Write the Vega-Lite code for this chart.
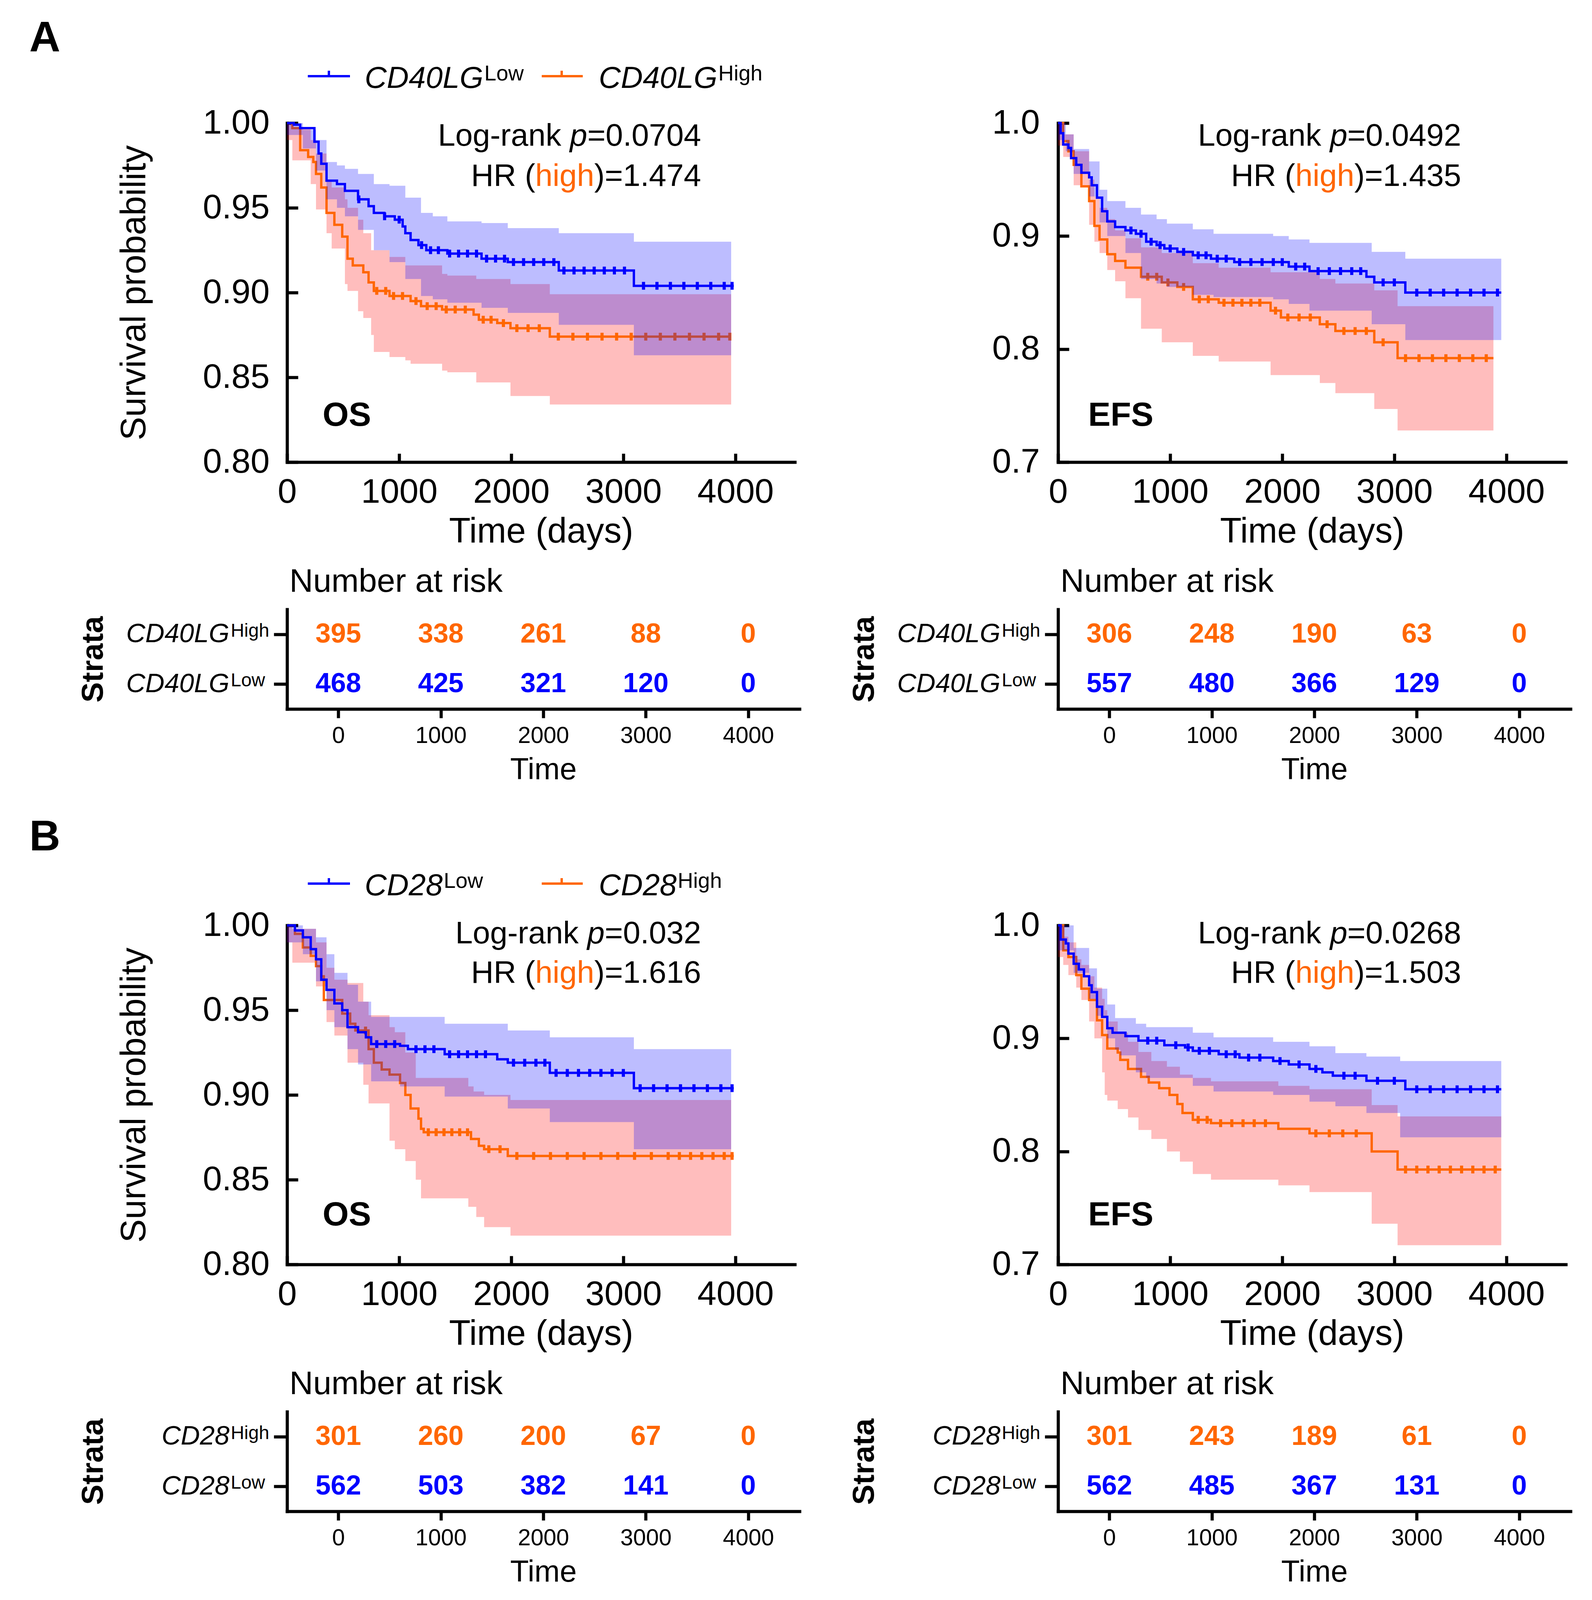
{
  "$schema": "https://vega.github.io/schema/vega-lite/v6.json",
  "background": "white",
  "padding": {"left": 74, "top": 42, "right": 10, "bottom": 4},
  "config": {
    "font": "Liberation Sans",
    "view": {"stroke": null},
    "axis": {
      "grid": false, "domainColor": "black", "tickColor": "black", "labelColor": "black", "titleColor": "black",
      "domainWidth": 8, "tickWidth": 8, "domainCap": "square", "titleFontWeight": "normal",
      "labelOverlap": false, "labelFlush": false, "labelLimit": 0, "titleLimit": 0
    },
    "tick": {"orient": "vertical", "size": 20, "thickness": 8, "yOffset": 6, "opacity": 1},
    "text": {"color": "black"}
  },
  "datasets": {
    "km": [
      {"panel":"aos","grp":"Low","t":0,"s":1.0},{"panel":"aos","grp":"Low","t":60,"s":0.999},{"panel":"aos","grp":"Low","t":117,"s":0.997},{"panel":"aos","grp":"Low","t":244,"s":0.989},{"panel":"aos","grp":"Low","t":281,"s":0.982},{"panel":"aos","grp":"Low","t":305,"s":0.976},{"panel":"aos","grp":"Low","t":352,"s":0.966},{"panel":"aos","grp":"Low","t":445,"s":0.964},{"panel":"aos","grp":"Low","t":516,"s":0.960},{"panel":"aos","grp":"Low","t":633,"s":0.955},{"panel":"aos","grp":"Low","t":727,"s":0.951},{"panel":"aos","grp":"Low","t":774,"s":0.947},{"panel":"aos","grp":"Low","t":867,"s":0.945},{"panel":"aos","grp":"Low","t":961,"s":0.943},{"panel":"aos","grp":"Low","t":1031,"s":0.939},{"panel":"aos","grp":"Low","t":1055,"s":0.935},{"panel":"aos","grp":"Low","t":1102,"s":0.931},{"panel":"aos","grp":"Low","t":1172,"s":0.928},{"panel":"aos","grp":"Low","t":1242,"s":0.925},{"panel":"aos","grp":"Low","t":1430,"s":0.923},{"panel":"aos","grp":"Low","t":1735,"s":0.920},{"panel":"aos","grp":"Low","t":1969,"s":0.918},{"panel":"aos","grp":"Low","t":2424,"s":0.913},{"panel":"aos","grp":"Low","t":3094,"s":0.904},{"panel":"aos","grp":"Low","t":3985,"s":0.904},
      {"panel":"aos","grp":"High","t":0,"s":1.0},{"panel":"aos","grp":"High","t":47,"s":0.997},{"panel":"aos","grp":"High","t":117,"s":0.984},{"panel":"aos","grp":"High","t":188,"s":0.980},{"panel":"aos","grp":"High","t":234,"s":0.977},{"panel":"aos","grp":"High","t":258,"s":0.970},{"panel":"aos","grp":"High","t":305,"s":0.962},{"panel":"aos","grp":"High","t":352,"s":0.947},{"panel":"aos","grp":"High","t":422,"s":0.940},{"panel":"aos","grp":"High","t":492,"s":0.933},{"panel":"aos","grp":"High","t":539,"s":0.920},{"panel":"aos","grp":"High","t":586,"s":0.916},{"panel":"aos","grp":"High","t":680,"s":0.912},{"panel":"aos","grp":"High","t":727,"s":0.906},{"panel":"aos","grp":"High","t":774,"s":0.901},{"panel":"aos","grp":"High","t":914,"s":0.898},{"panel":"aos","grp":"High","t":1102,"s":0.895},{"panel":"aos","grp":"High","t":1195,"s":0.892},{"panel":"aos","grp":"High","t":1383,"s":0.890},{"panel":"aos","grp":"High","t":1664,"s":0.887},{"panel":"aos","grp":"High","t":1711,"s":0.884},{"panel":"aos","grp":"High","t":1875,"s":0.882},{"panel":"aos","grp":"High","t":1993,"s":0.879},{"panel":"aos","grp":"High","t":2344,"s":0.874},{"panel":"aos","grp":"High","t":3962,"s":0.874},
      {"panel":"aefs","grp":"Low","t":0,"s":1.0},{"panel":"aefs","grp":"Low","t":23,"s":0.991},{"panel":"aefs","grp":"Low","t":46,"s":0.981},{"panel":"aefs","grp":"Low","t":92,"s":0.978},{"panel":"aefs","grp":"Low","t":116,"s":0.969},{"panel":"aefs","grp":"Low","t":162,"s":0.963},{"panel":"aefs","grp":"Low","t":208,"s":0.956},{"panel":"aefs","grp":"Low","t":277,"s":0.952},{"panel":"aefs","grp":"Low","t":300,"s":0.945},{"panel":"aefs","grp":"Low","t":347,"s":0.934},{"panel":"aefs","grp":"Low","t":393,"s":0.922},{"panel":"aefs","grp":"Low","t":439,"s":0.913},{"panel":"aefs","grp":"Low","t":509,"s":0.908},{"panel":"aefs","grp":"Low","t":601,"s":0.905},{"panel":"aefs","grp":"Low","t":694,"s":0.902},{"panel":"aefs","grp":"Low","t":786,"s":0.895},{"panel":"aefs","grp":"Low","t":879,"s":0.892},{"panel":"aefs","grp":"Low","t":948,"s":0.889},{"panel":"aefs","grp":"Low","t":1064,"s":0.886},{"panel":"aefs","grp":"Low","t":1202,"s":0.883},{"panel":"aefs","grp":"Low","t":1364,"s":0.880},{"panel":"aefs","grp":"Low","t":1572,"s":0.877},{"panel":"aefs","grp":"Low","t":2058,"s":0.873},{"panel":"aefs","grp":"Low","t":2243,"s":0.869},{"panel":"aefs","grp":"Low","t":2751,"s":0.864},{"panel":"aefs","grp":"Low","t":2821,"s":0.859},{"panel":"aefs","grp":"Low","t":3098,"s":0.850},{"panel":"aefs","grp":"Low","t":3954,"s":0.850},
      {"panel":"aefs","grp":"High","t":0,"s":1.0},{"panel":"aefs","grp":"High","t":46,"s":0.984},{"panel":"aefs","grp":"High","t":92,"s":0.975},{"panel":"aefs","grp":"High","t":139,"s":0.963},{"panel":"aefs","grp":"High","t":208,"s":0.944},{"panel":"aefs","grp":"High","t":277,"s":0.931},{"panel":"aefs","grp":"High","t":324,"s":0.909},{"panel":"aefs","grp":"High","t":370,"s":0.897},{"panel":"aefs","grp":"High","t":439,"s":0.884},{"panel":"aefs","grp":"High","t":509,"s":0.878},{"panel":"aefs","grp":"High","t":601,"s":0.872},{"panel":"aefs","grp":"High","t":740,"s":0.864},{"panel":"aefs","grp":"High","t":925,"s":0.859},{"panel":"aefs","grp":"High","t":1064,"s":0.855},{"panel":"aefs","grp":"High","t":1202,"s":0.844},{"panel":"aefs","grp":"High","t":1433,"s":0.841},{"panel":"aefs","grp":"High","t":1896,"s":0.834},{"panel":"aefs","grp":"High","t":1988,"s":0.828},{"panel":"aefs","grp":"High","t":2335,"s":0.822},{"panel":"aefs","grp":"High","t":2474,"s":0.816},{"panel":"aefs","grp":"High","t":2821,"s":0.806},{"panel":"aefs","grp":"High","t":3029,"s":0.792},{"panel":"aefs","grp":"High","t":3884,"s":0.792},
      {"panel":"bos","grp":"Low","t":0,"s":1.0},{"panel":"bos","grp":"Low","t":70,"s":0.997},{"panel":"bos","grp":"Low","t":141,"s":0.993},{"panel":"bos","grp":"Low","t":211,"s":0.986},{"panel":"bos","grp":"Low","t":258,"s":0.980},{"panel":"bos","grp":"Low","t":305,"s":0.968},{"panel":"bos","grp":"Low","t":352,"s":0.962},{"panel":"bos","grp":"Low","t":422,"s":0.954},{"panel":"bos","grp":"Low","t":492,"s":0.950},{"panel":"bos","grp":"Low","t":539,"s":0.940},{"panel":"bos","grp":"Low","t":633,"s":0.937},{"panel":"bos","grp":"Low","t":703,"s":0.934},{"panel":"bos","grp":"Low","t":750,"s":0.930},{"panel":"bos","grp":"Low","t":1008,"s":0.929},{"panel":"bos","grp":"Low","t":1078,"s":0.927},{"panel":"bos","grp":"Low","t":1406,"s":0.924},{"panel":"bos","grp":"Low","t":1875,"s":0.921},{"panel":"bos","grp":"Low","t":1969,"s":0.919},{"panel":"bos","grp":"Low","t":2344,"s":0.913},{"panel":"bos","grp":"Low","t":3094,"s":0.904},{"panel":"bos","grp":"Low","t":3985,"s":0.904},
      {"panel":"bos","grp":"High","t":0,"s":1.0},{"panel":"bos","grp":"High","t":70,"s":0.995},{"panel":"bos","grp":"High","t":141,"s":0.987},{"panel":"bos","grp":"High","t":211,"s":0.982},{"panel":"bos","grp":"High","t":258,"s":0.976},{"panel":"bos","grp":"High","t":305,"s":0.970},{"panel":"bos","grp":"High","t":328,"s":0.956},{"panel":"bos","grp":"High","t":492,"s":0.948},{"panel":"bos","grp":"High","t":563,"s":0.942},{"panel":"bos","grp":"High","t":609,"s":0.938},{"panel":"bos","grp":"High","t":727,"s":0.927},{"panel":"bos","grp":"High","t":774,"s":0.919},{"panel":"bos","grp":"High","t":844,"s":0.915},{"panel":"bos","grp":"High","t":914,"s":0.912},{"panel":"bos","grp":"High","t":1008,"s":0.907},{"panel":"bos","grp":"High","t":1055,"s":0.900},{"panel":"bos","grp":"High","t":1102,"s":0.892},{"panel":"bos","grp":"High","t":1172,"s":0.886},{"panel":"bos","grp":"High","t":1195,"s":0.880},{"panel":"bos","grp":"High","t":1219,"s":0.878},{"panel":"bos","grp":"High","t":1641,"s":0.874},{"panel":"bos","grp":"High","t":1711,"s":0.870},{"panel":"bos","grp":"High","t":1758,"s":0.868},{"panel":"bos","grp":"High","t":1969,"s":0.864},{"panel":"bos","grp":"High","t":3985,"s":0.864},
      {"panel":"befs","grp":"Low","t":0,"s":1.0},{"panel":"befs","grp":"Low","t":23,"s":0.9875},{"panel":"befs","grp":"Low","t":69,"s":0.984},{"panel":"befs","grp":"Low","t":92,"s":0.975},{"panel":"befs","grp":"Low","t":139,"s":0.966},{"panel":"befs","grp":"Low","t":185,"s":0.961},{"panel":"befs","grp":"Low","t":231,"s":0.955},{"panel":"befs","grp":"Low","t":277,"s":0.947},{"panel":"befs","grp":"Low","t":300,"s":0.941},{"panel":"befs","grp":"Low","t":347,"s":0.928},{"panel":"befs","grp":"Low","t":393,"s":0.919},{"panel":"befs","grp":"Low","t":439,"s":0.909},{"panel":"befs","grp":"Low","t":486,"s":0.905},{"panel":"befs","grp":"Low","t":601,"s":0.902},{"panel":"befs","grp":"Low","t":717,"s":0.898},{"panel":"befs","grp":"Low","t":948,"s":0.894},{"panel":"befs","grp":"Low","t":1133,"s":0.892},{"panel":"befs","grp":"Low","t":1202,"s":0.889},{"panel":"befs","grp":"Low","t":1433,"s":0.886},{"panel":"befs","grp":"Low","t":1618,"s":0.883},{"panel":"befs","grp":"Low","t":1919,"s":0.880},{"panel":"befs","grp":"Low","t":2058,"s":0.877},{"panel":"befs","grp":"Low","t":2243,"s":0.873},{"panel":"befs","grp":"Low","t":2358,"s":0.870},{"panel":"befs","grp":"Low","t":2451,"s":0.867},{"panel":"befs","grp":"Low","t":2751,"s":0.8625},{"panel":"befs","grp":"Low","t":3098,"s":0.855},{"panel":"befs","grp":"Low","t":3954,"s":0.855},
      {"panel":"befs","grp":"High","t":0,"s":1.0},{"panel":"befs","grp":"High","t":46,"s":0.978},{"panel":"befs","grp":"High","t":92,"s":0.972},{"panel":"befs","grp":"High","t":162,"s":0.956},{"panel":"befs","grp":"High","t":208,"s":0.944},{"panel":"befs","grp":"High","t":277,"s":0.934},{"panel":"befs","grp":"High","t":347,"s":0.916},{"panel":"befs","grp":"High","t":393,"s":0.903},{"panel":"befs","grp":"High","t":439,"s":0.891},{"panel":"befs","grp":"High","t":532,"s":0.8875},{"panel":"befs","grp":"High","t":555,"s":0.881},{"panel":"befs","grp":"High","t":624,"s":0.873},{"panel":"befs","grp":"High","t":740,"s":0.866},{"panel":"befs","grp":"High","t":809,"s":0.861},{"panel":"befs","grp":"High","t":902,"s":0.856},{"panel":"befs","grp":"High","t":994,"s":0.850},{"panel":"befs","grp":"High","t":1064,"s":0.842},{"panel":"befs","grp":"High","t":1110,"s":0.834},{"panel":"befs","grp":"High","t":1202,"s":0.828},{"panel":"befs","grp":"High","t":1364,"s":0.825},{"panel":"befs","grp":"High","t":1965,"s":0.820},{"panel":"befs","grp":"High","t":2243,"s":0.816},{"panel":"befs","grp":"High","t":2798,"s":0.800},{"panel":"befs","grp":"High","t":3029,"s":0.784},{"panel":"befs","grp":"High","t":3954,"s":0.784}
    ],
    "cens": [
      {"panel":"aos","grp":"Low","t":640,"s":0.955},{"panel":"aos","grp":"Low","t":870,"s":0.945},{"panel":"aos","grp":"Low","t":1000,"s":0.943},{"panel":"aos","grp":"Low","t":1200,"s":0.928},{"panel":"aos","grp":"Low","t":1280,"s":0.925},{"panel":"aos","grp":"Low","t":1350,"s":0.925},{"panel":"aos","grp":"Low","t":1450,"s":0.923},{"panel":"aos","grp":"Low","t":1530,"s":0.923},{"panel":"aos","grp":"Low","t":1610,"s":0.923},{"panel":"aos","grp":"Low","t":1690,"s":0.923},{"panel":"aos","grp":"Low","t":1780,"s":0.920},{"panel":"aos","grp":"Low","t":1860,"s":0.920},{"panel":"aos","grp":"Low","t":1940,"s":0.920},{"panel":"aos","grp":"Low","t":2020,"s":0.918},{"panel":"aos","grp":"Low","t":2110,"s":0.918},{"panel":"aos","grp":"Low","t":2200,"s":0.918},{"panel":"aos","grp":"Low","t":2290,"s":0.918},{"panel":"aos","grp":"Low","t":2380,"s":0.918},{"panel":"aos","grp":"Low","t":2470,"s":0.913},{"panel":"aos","grp":"Low","t":2560,"s":0.913},{"panel":"aos","grp":"Low","t":2650,"s":0.913},{"panel":"aos","grp":"Low","t":2740,"s":0.913},{"panel":"aos","grp":"Low","t":2830,"s":0.913},{"panel":"aos","grp":"Low","t":2920,"s":0.913},{"panel":"aos","grp":"Low","t":3010,"s":0.913},{"panel":"aos","grp":"Low","t":3180,"s":0.904},{"panel":"aos","grp":"Low","t":3300,"s":0.904},{"panel":"aos","grp":"Low","t":3420,"s":0.904},{"panel":"aos","grp":"Low","t":3540,"s":0.904},{"panel":"aos","grp":"Low","t":3660,"s":0.904},{"panel":"aos","grp":"Low","t":3780,"s":0.904},{"panel":"aos","grp":"Low","t":3900,"s":0.904},{"panel":"aos","grp":"Low","t":3970,"s":0.904},
      {"panel":"aos","grp":"High","t":800,"s":0.901},{"panel":"aos","grp":"High","t":880,"s":0.901},{"panel":"aos","grp":"High","t":950,"s":0.898},{"panel":"aos","grp":"High","t":1030,"s":0.898},{"panel":"aos","grp":"High","t":1150,"s":0.895},{"panel":"aos","grp":"High","t":1250,"s":0.892},{"panel":"aos","grp":"High","t":1330,"s":0.892},{"panel":"aos","grp":"High","t":1420,"s":0.890},{"panel":"aos","grp":"High","t":1500,"s":0.890},{"panel":"aos","grp":"High","t":1590,"s":0.890},{"panel":"aos","grp":"High","t":1750,"s":0.884},{"panel":"aos","grp":"High","t":1820,"s":0.884},{"panel":"aos","grp":"High","t":1930,"s":0.882},{"panel":"aos","grp":"High","t":2050,"s":0.879},{"panel":"aos","grp":"High","t":2150,"s":0.879},{"panel":"aos","grp":"High","t":2250,"s":0.879},{"panel":"aos","grp":"High","t":2420,"s":0.874},{"panel":"aos","grp":"High","t":2550,"s":0.874},{"panel":"aos","grp":"High","t":2680,"s":0.874},{"panel":"aos","grp":"High","t":2810,"s":0.874},{"panel":"aos","grp":"High","t":2940,"s":0.874},{"panel":"aos","grp":"High","t":3070,"s":0.874},{"panel":"aos","grp":"High","t":3200,"s":0.874},{"panel":"aos","grp":"High","t":3330,"s":0.874},{"panel":"aos","grp":"High","t":3460,"s":0.874},{"panel":"aos","grp":"High","t":3590,"s":0.874},{"panel":"aos","grp":"High","t":3720,"s":0.874},{"panel":"aos","grp":"High","t":3850,"s":0.874},{"panel":"aos","grp":"High","t":3950,"s":0.874},
      {"panel":"aefs","grp":"Low","t":650,"s":0.905},{"panel":"aefs","grp":"Low","t":740,"s":0.902},{"panel":"aefs","grp":"Low","t":830,"s":0.895},{"panel":"aefs","grp":"Low","t":910,"s":0.892},{"panel":"aefs","grp":"Low","t":1000,"s":0.889},{"panel":"aefs","grp":"Low","t":1120,"s":0.886},{"panel":"aefs","grp":"Low","t":1250,"s":0.883},{"panel":"aefs","grp":"Low","t":1320,"s":0.883},{"panel":"aefs","grp":"Low","t":1420,"s":0.880},{"panel":"aefs","grp":"Low","t":1500,"s":0.880},{"panel":"aefs","grp":"Low","t":1620,"s":0.877},{"panel":"aefs","grp":"Low","t":1720,"s":0.877},{"panel":"aefs","grp":"Low","t":1820,"s":0.877},{"panel":"aefs","grp":"Low","t":1920,"s":0.877},{"panel":"aefs","grp":"Low","t":2000,"s":0.877},{"panel":"aefs","grp":"Low","t":2120,"s":0.873},{"panel":"aefs","grp":"Low","t":2200,"s":0.873},{"panel":"aefs","grp":"Low","t":2320,"s":0.869},{"panel":"aefs","grp":"Low","t":2420,"s":0.869},{"panel":"aefs","grp":"Low","t":2520,"s":0.869},{"panel":"aefs","grp":"Low","t":2620,"s":0.869},{"panel":"aefs","grp":"Low","t":2700,"s":0.869},{"panel":"aefs","grp":"Low","t":2900,"s":0.859},{"panel":"aefs","grp":"Low","t":3000,"s":0.859},{"panel":"aefs","grp":"Low","t":3200,"s":0.850},{"panel":"aefs","grp":"Low","t":3320,"s":0.850},{"panel":"aefs","grp":"Low","t":3440,"s":0.850},{"panel":"aefs","grp":"Low","t":3560,"s":0.850},{"panel":"aefs","grp":"Low","t":3680,"s":0.850},{"panel":"aefs","grp":"Low","t":3800,"s":0.850},{"panel":"aefs","grp":"Low","t":3920,"s":0.850},
      {"panel":"aefs","grp":"High","t":800,"s":0.864},{"panel":"aefs","grp":"High","t":880,"s":0.864},{"panel":"aefs","grp":"High","t":980,"s":0.859},{"panel":"aefs","grp":"High","t":1120,"s":0.855},{"panel":"aefs","grp":"High","t":1260,"s":0.844},{"panel":"aefs","grp":"High","t":1340,"s":0.844},{"panel":"aefs","grp":"High","t":1480,"s":0.841},{"panel":"aefs","grp":"High","t":1560,"s":0.841},{"panel":"aefs","grp":"High","t":1640,"s":0.841},{"panel":"aefs","grp":"High","t":1720,"s":0.841},{"panel":"aefs","grp":"High","t":1800,"s":0.841},{"panel":"aefs","grp":"High","t":1940,"s":0.834},{"panel":"aefs","grp":"High","t":2050,"s":0.828},{"panel":"aefs","grp":"High","t":2150,"s":0.828},{"panel":"aefs","grp":"High","t":2250,"s":0.828},{"panel":"aefs","grp":"High","t":2400,"s":0.822},{"panel":"aefs","grp":"High","t":2550,"s":0.816},{"panel":"aefs","grp":"High","t":2650,"s":0.816},{"panel":"aefs","grp":"High","t":2750,"s":0.816},{"panel":"aefs","grp":"High","t":2900,"s":0.806},{"panel":"aefs","grp":"High","t":3100,"s":0.792},{"panel":"aefs","grp":"High","t":3220,"s":0.792},{"panel":"aefs","grp":"High","t":3340,"s":0.792},{"panel":"aefs","grp":"High","t":3460,"s":0.792},{"panel":"aefs","grp":"High","t":3580,"s":0.792},{"panel":"aefs","grp":"High","t":3700,"s":0.792},{"panel":"aefs","grp":"High","t":3820,"s":0.792},
      {"panel":"bos","grp":"Low","t":800,"s":0.930},{"panel":"bos","grp":"Low","t":880,"s":0.930},{"panel":"bos","grp":"Low","t":960,"s":0.930},{"panel":"bos","grp":"Low","t":1150,"s":0.927},{"panel":"bos","grp":"Low","t":1230,"s":0.927},{"panel":"bos","grp":"Low","t":1310,"s":0.927},{"panel":"bos","grp":"Low","t":1450,"s":0.924},{"panel":"bos","grp":"Low","t":1530,"s":0.924},{"panel":"bos","grp":"Low","t":1610,"s":0.924},{"panel":"bos","grp":"Low","t":1690,"s":0.924},{"panel":"bos","grp":"Low","t":1770,"s":0.924},{"panel":"bos","grp":"Low","t":2020,"s":0.919},{"panel":"bos","grp":"Low","t":2120,"s":0.919},{"panel":"bos","grp":"Low","t":2220,"s":0.919},{"panel":"bos","grp":"Low","t":2300,"s":0.919},{"panel":"bos","grp":"Low","t":2400,"s":0.913},{"panel":"bos","grp":"Low","t":2500,"s":0.913},{"panel":"bos","grp":"Low","t":2600,"s":0.913},{"panel":"bos","grp":"Low","t":2700,"s":0.913},{"panel":"bos","grp":"Low","t":2800,"s":0.913},{"panel":"bos","grp":"Low","t":2900,"s":0.913},{"panel":"bos","grp":"Low","t":3000,"s":0.913},{"panel":"bos","grp":"Low","t":3150,"s":0.904},{"panel":"bos","grp":"Low","t":3270,"s":0.904},{"panel":"bos","grp":"Low","t":3390,"s":0.904},{"panel":"bos","grp":"Low","t":3510,"s":0.904},{"panel":"bos","grp":"Low","t":3630,"s":0.904},{"panel":"bos","grp":"Low","t":3750,"s":0.904},{"panel":"bos","grp":"Low","t":3870,"s":0.904},{"panel":"bos","grp":"Low","t":3970,"s":0.904},
      {"panel":"bos","grp":"High","t":700,"s":0.938},{"panel":"bos","grp":"High","t":1260,"s":0.878},{"panel":"bos","grp":"High","t":1330,"s":0.878},{"panel":"bos","grp":"High","t":1400,"s":0.878},{"panel":"bos","grp":"High","t":1470,"s":0.878},{"panel":"bos","grp":"High","t":1540,"s":0.878},{"panel":"bos","grp":"High","t":1610,"s":0.878},{"panel":"bos","grp":"High","t":1800,"s":0.868},{"panel":"bos","grp":"High","t":1900,"s":0.868},{"panel":"bos","grp":"High","t":2050,"s":0.864},{"panel":"bos","grp":"High","t":2200,"s":0.864},{"panel":"bos","grp":"High","t":2350,"s":0.864},{"panel":"bos","grp":"High","t":2500,"s":0.864},{"panel":"bos","grp":"High","t":2650,"s":0.864},{"panel":"bos","grp":"High","t":2800,"s":0.864},{"panel":"bos","grp":"High","t":2950,"s":0.864},{"panel":"bos","grp":"High","t":3100,"s":0.864},{"panel":"bos","grp":"High","t":3250,"s":0.864},{"panel":"bos","grp":"High","t":3400,"s":0.864},{"panel":"bos","grp":"High","t":3500,"s":0.864},{"panel":"bos","grp":"High","t":3600,"s":0.864},{"panel":"bos","grp":"High","t":3700,"s":0.864},{"panel":"bos","grp":"High","t":3800,"s":0.864},{"panel":"bos","grp":"High","t":3900,"s":0.864},{"panel":"bos","grp":"High","t":3970,"s":0.864},
      {"panel":"befs","grp":"Low","t":800,"s":0.898},{"panel":"befs","grp":"Low","t":880,"s":0.898},{"panel":"befs","grp":"Low","t":1050,"s":0.894},{"panel":"befs","grp":"Low","t":1160,"s":0.892},{"panel":"befs","grp":"Low","t":1260,"s":0.889},{"panel":"befs","grp":"Low","t":1350,"s":0.889},{"panel":"befs","grp":"Low","t":1500,"s":0.886},{"panel":"befs","grp":"Low","t":1580,"s":0.886},{"panel":"befs","grp":"Low","t":1700,"s":0.883},{"panel":"befs","grp":"Low","t":1800,"s":0.883},{"panel":"befs","grp":"Low","t":1980,"s":0.880},{"panel":"befs","grp":"Low","t":2150,"s":0.877},{"panel":"befs","grp":"Low","t":2300,"s":0.873},{"panel":"befs","grp":"Low","t":2550,"s":0.867},{"panel":"befs","grp":"Low","t":2650,"s":0.867},{"panel":"befs","grp":"Low","t":2850,"s":0.8625},{"panel":"befs","grp":"Low","t":3000,"s":0.8625},{"panel":"befs","grp":"Low","t":3200,"s":0.855},{"panel":"befs","grp":"Low","t":3320,"s":0.855},{"panel":"befs","grp":"Low","t":3440,"s":0.855},{"panel":"befs","grp":"Low","t":3560,"s":0.855},{"panel":"befs","grp":"Low","t":3680,"s":0.855},{"panel":"befs","grp":"Low","t":3800,"s":0.855},{"panel":"befs","grp":"Low","t":3920,"s":0.855},
      {"panel":"befs","grp":"High","t":1250,"s":0.828},{"panel":"befs","grp":"High","t":1330,"s":0.828},{"panel":"befs","grp":"High","t":1450,"s":0.825},{"panel":"befs","grp":"High","t":1550,"s":0.825},{"panel":"befs","grp":"High","t":1650,"s":0.825},{"panel":"befs","grp":"High","t":1750,"s":0.825},{"panel":"befs","grp":"High","t":1850,"s":0.825},{"panel":"befs","grp":"High","t":2300,"s":0.816},{"panel":"befs","grp":"High","t":2420,"s":0.816},{"panel":"befs","grp":"High","t":2540,"s":0.816},{"panel":"befs","grp":"High","t":2660,"s":0.816},{"panel":"befs","grp":"High","t":3100,"s":0.784},{"panel":"befs","grp":"High","t":3200,"s":0.784},{"panel":"befs","grp":"High","t":3300,"s":0.784},{"panel":"befs","grp":"High","t":3400,"s":0.784},{"panel":"befs","grp":"High","t":3500,"s":0.784},{"panel":"befs","grp":"High","t":3600,"s":0.784},{"panel":"befs","grp":"High","t":3700,"s":0.784},{"panel":"befs","grp":"High","t":3800,"s":0.784},{"panel":"befs","grp":"High","t":3900,"s":0.784}
    ],
    "band": [
      {"panel":"aos","grp":"Low","t":0,"lo":0.993,"hi":1.0},{"panel":"aos","grp":"Low","t":141,"lo":0.985,"hi":0.996},{"panel":"aos","grp":"Low","t":258,"lo":0.972,"hi":0.990},{"panel":"aos","grp":"Low","t":352,"lo":0.955,"hi":0.977},{"panel":"aos","grp":"Low","t":445,"lo":0.950,"hi":0.975},{"panel":"aos","grp":"Low","t":516,"lo":0.945,"hi":0.973},{"panel":"aos","grp":"Low","t":633,"lo":0.937,"hi":0.970},{"panel":"aos","grp":"Low","t":774,"lo":0.925,"hi":0.964},{"panel":"aos","grp":"Low","t":914,"lo":0.918,"hi":0.963},{"panel":"aos","grp":"Low","t":1055,"lo":0.908,"hi":0.956},{"panel":"aos","grp":"Low","t":1195,"lo":0.898,"hi":0.947},{"panel":"aos","grp":"Low","t":1300,"lo":0.896,"hi":0.945},{"panel":"aos","grp":"Low","t":1430,"lo":0.894,"hi":0.942},{"panel":"aos","grp":"Low","t":1735,"lo":0.891,"hi":0.941},{"panel":"aos","grp":"Low","t":1969,"lo":0.888,"hi":0.938},{"panel":"aos","grp":"Low","t":2424,"lo":0.881,"hi":0.935},{"panel":"aos","grp":"Low","t":3094,"lo":0.863,"hi":0.930},{"panel":"aos","grp":"Low","t":3962,"lo":0.863,"hi":0.930},
      {"panel":"aos","grp":"High","t":0,"lo":0.99,"hi":1.0},{"panel":"aos","grp":"High","t":47,"lo":0.978,"hi":0.997},{"panel":"aos","grp":"High","t":211,"lo":0.964,"hi":0.990},{"panel":"aos","grp":"High","t":258,"lo":0.949,"hi":0.982},{"panel":"aos","grp":"High","t":352,"lo":0.935,"hi":0.966},{"panel":"aos","grp":"High","t":398,"lo":0.926,"hi":0.962},{"panel":"aos","grp":"High","t":516,"lo":0.905,"hi":0.955},{"panel":"aos","grp":"High","t":539,"lo":0.901,"hi":0.950},{"panel":"aos","grp":"High","t":633,"lo":0.889,"hi":0.943},{"panel":"aos","grp":"High","t":680,"lo":0.885,"hi":0.935},{"panel":"aos","grp":"High","t":750,"lo":0.875,"hi":0.925},{"panel":"aos","grp":"High","t":774,"lo":0.865,"hi":0.925},{"panel":"aos","grp":"High","t":914,"lo":0.862,"hi":0.921},{"panel":"aos","grp":"High","t":1055,"lo":0.860,"hi":0.916},{"panel":"aos","grp":"High","t":1102,"lo":0.858,"hi":0.916},{"panel":"aos","grp":"High","t":1383,"lo":0.854,"hi":0.911},{"panel":"aos","grp":"High","t":1430,"lo":0.853,"hi":0.910},{"panel":"aos","grp":"High","t":1688,"lo":0.847,"hi":0.908},{"panel":"aos","grp":"High","t":1993,"lo":0.839,"hi":0.905},{"panel":"aos","grp":"High","t":2344,"lo":0.834,"hi":0.899},{"panel":"aos","grp":"High","t":3962,"lo":0.834,"hi":0.899},
      {"panel":"aefs","grp":"Low","t":0,"lo":0.985,"hi":1.0},{"panel":"aefs","grp":"Low","t":69,"lo":0.975,"hi":0.990},{"panel":"aefs","grp":"Low","t":139,"lo":0.955,"hi":0.977},{"panel":"aefs","grp":"Low","t":277,"lo":0.935,"hi":0.966},{"panel":"aefs","grp":"Low","t":370,"lo":0.912,"hi":0.941},{"panel":"aefs","grp":"Low","t":439,"lo":0.900,"hi":0.931},{"panel":"aefs","grp":"Low","t":601,"lo":0.885,"hi":0.925},{"panel":"aefs","grp":"Low","t":740,"lo":0.862,"hi":0.919},{"panel":"aefs","grp":"Low","t":879,"lo":0.858,"hi":0.915},{"panel":"aefs","grp":"Low","t":971,"lo":0.855,"hi":0.911},{"panel":"aefs","grp":"Low","t":1202,"lo":0.848,"hi":0.906},{"panel":"aefs","grp":"Low","t":1387,"lo":0.846,"hi":0.902},{"panel":"aefs","grp":"Low","t":1919,"lo":0.844,"hi":0.900},{"panel":"aefs","grp":"Low","t":2058,"lo":0.840,"hi":0.897},{"panel":"aefs","grp":"Low","t":2243,"lo":0.834,"hi":0.894},{"panel":"aefs","grp":"Low","t":2798,"lo":0.822,"hi":0.886},{"panel":"aefs","grp":"Low","t":3098,"lo":0.808,"hi":0.880},{"panel":"aefs","grp":"Low","t":3954,"lo":0.808,"hi":0.880},
      {"panel":"aefs","grp":"High","t":0,"lo":0.98,"hi":1.0},{"panel":"aefs","grp":"High","t":46,"lo":0.97,"hi":0.99},{"panel":"aefs","grp":"High","t":139,"lo":0.945,"hi":0.975},{"panel":"aefs","grp":"High","t":277,"lo":0.91,"hi":0.95},{"panel":"aefs","grp":"High","t":324,"lo":0.895,"hi":0.935},{"panel":"aefs","grp":"High","t":370,"lo":0.885,"hi":0.925},{"panel":"aefs","grp":"High","t":439,"lo":0.87,"hi":0.915},{"panel":"aefs","grp":"High","t":509,"lo":0.86,"hi":0.905},{"panel":"aefs","grp":"High","t":601,"lo":0.845,"hi":0.898},{"panel":"aefs","grp":"High","t":740,"lo":0.818,"hi":0.89},{"panel":"aefs","grp":"High","t":925,"lo":0.806,"hi":0.885},{"panel":"aefs","grp":"High","t":1202,"lo":0.794,"hi":0.876},{"panel":"aefs","grp":"High","t":1433,"lo":0.789,"hi":0.872},{"panel":"aefs","grp":"High","t":1896,"lo":0.777,"hi":0.868},{"panel":"aefs","grp":"High","t":2335,"lo":0.770,"hi":0.862},{"panel":"aefs","grp":"High","t":2474,"lo":0.761,"hi":0.858},{"panel":"aefs","grp":"High","t":2821,"lo":0.747,"hi":0.852},{"panel":"aefs","grp":"High","t":3029,"lo":0.728,"hi":0.838},{"panel":"aefs","grp":"High","t":3884,"lo":0.728,"hi":0.838},
      {"panel":"bos","grp":"Low","t":0,"lo":0.99,"hi":1.0},{"panel":"bos","grp":"Low","t":141,"lo":0.983,"hi":0.998},{"panel":"bos","grp":"Low","t":258,"lo":0.967,"hi":0.993},{"panel":"bos","grp":"Low","t":352,"lo":0.950,"hi":0.983},{"panel":"bos","grp":"Low","t":422,"lo":0.940,"hi":0.972},{"panel":"bos","grp":"Low","t":539,"lo":0.927,"hi":0.965},{"panel":"bos","grp":"Low","t":633,"lo":0.918,"hi":0.955},{"panel":"bos","grp":"Low","t":750,"lo":0.908,"hi":0.946},{"panel":"bos","grp":"Low","t":1008,"lo":0.905,"hi":0.946},{"panel":"bos","grp":"Low","t":1406,"lo":0.899,"hi":0.942},{"panel":"bos","grp":"Low","t":1969,"lo":0.892,"hi":0.938},{"panel":"bos","grp":"Low","t":2344,"lo":0.884,"hi":0.934},{"panel":"bos","grp":"Low","t":3094,"lo":0.868,"hi":0.927},{"panel":"bos","grp":"Low","t":3962,"lo":0.868,"hi":0.927},
      {"panel":"bos","grp":"High","t":0,"lo":0.99,"hi":1.0},{"panel":"bos","grp":"High","t":47,"lo":0.978,"hi":0.998},{"panel":"bos","grp":"High","t":258,"lo":0.964,"hi":0.990},{"panel":"bos","grp":"High","t":352,"lo":0.943,"hi":0.975},{"panel":"bos","grp":"High","t":422,"lo":0.935,"hi":0.968},{"panel":"bos","grp":"High","t":539,"lo":0.919,"hi":0.966},{"panel":"bos","grp":"High","t":680,"lo":0.906,"hi":0.955},{"panel":"bos","grp":"High","t":727,"lo":0.895,"hi":0.947},{"panel":"bos","grp":"High","t":914,"lo":0.873,"hi":0.940},{"panel":"bos","grp":"High","t":961,"lo":0.868,"hi":0.937},{"panel":"bos","grp":"High","t":1055,"lo":0.861,"hi":0.925},{"panel":"bos","grp":"High","t":1148,"lo":0.850,"hi":0.910},{"panel":"bos","grp":"High","t":1195,"lo":0.839,"hi":0.910},{"panel":"bos","grp":"High","t":1617,"lo":0.834,"hi":0.905},{"panel":"bos","grp":"High","t":1664,"lo":0.834,"hi":0.902},{"panel":"bos","grp":"High","t":1688,"lo":0.828,"hi":0.902},{"panel":"bos","grp":"High","t":1758,"lo":0.822,"hi":0.900},{"panel":"bos","grp":"High","t":1993,"lo":0.817,"hi":0.897},{"panel":"bos","grp":"High","t":3962,"lo":0.817,"hi":0.897},
      {"panel":"befs","grp":"Low","t":0,"lo":0.978,"hi":1.0},{"panel":"befs","grp":"Low","t":139,"lo":0.958,"hi":0.98},{"panel":"befs","grp":"Low","t":277,"lo":0.935,"hi":0.962},{"panel":"befs","grp":"Low","t":347,"lo":0.92,"hi":0.944},{"panel":"befs","grp":"Low","t":439,"lo":0.90,"hi":0.93},{"panel":"befs","grp":"Low","t":509,"lo":0.89,"hi":0.918},{"panel":"befs","grp":"Low","t":555,"lo":0.885,"hi":0.918},{"panel":"befs","grp":"Low","t":694,"lo":0.87,"hi":0.913},{"panel":"befs","grp":"Low","t":786,"lo":0.865,"hi":0.91},{"panel":"befs","grp":"Low","t":1202,"lo":0.858,"hi":0.905},{"panel":"befs","grp":"Low","t":1387,"lo":0.853,"hi":0.901},{"panel":"befs","grp":"Low","t":1919,"lo":0.850,"hi":0.897},{"panel":"befs","grp":"Low","t":2243,"lo":0.844,"hi":0.893},{"panel":"befs","grp":"Low","t":2474,"lo":0.840,"hi":0.887},{"panel":"befs","grp":"Low","t":2751,"lo":0.834,"hi":0.884},{"panel":"befs","grp":"Low","t":3052,"lo":0.8125,"hi":0.88},{"panel":"befs","grp":"Low","t":3954,"lo":0.8125,"hi":0.88},
      {"panel":"befs","grp":"High","t":0,"lo":0.972,"hi":1.0},{"panel":"befs","grp":"High","t":46,"lo":0.965,"hi":0.99},{"panel":"befs","grp":"High","t":92,"lo":0.956,"hi":0.985},{"panel":"befs","grp":"High","t":162,"lo":0.945,"hi":0.97},{"panel":"befs","grp":"High","t":208,"lo":0.934,"hi":0.965},{"panel":"befs","grp":"High","t":277,"lo":0.915,"hi":0.955},{"panel":"befs","grp":"High","t":324,"lo":0.9,"hi":0.945},{"panel":"befs","grp":"High","t":393,"lo":0.87,"hi":0.935},{"panel":"befs","grp":"High","t":416,"lo":0.85,"hi":0.925},{"panel":"befs","grp":"High","t":439,"lo":0.845,"hi":0.915},{"panel":"befs","grp":"High","t":532,"lo":0.8375,"hi":0.905},{"panel":"befs","grp":"High","t":624,"lo":0.83,"hi":0.897},{"panel":"befs","grp":"High","t":717,"lo":0.819,"hi":0.888},{"panel":"befs","grp":"High","t":832,"lo":0.811,"hi":0.88},{"panel":"befs","grp":"High","t":971,"lo":0.8,"hi":0.875},{"panel":"befs","grp":"High","t":1087,"lo":0.791,"hi":0.868},{"panel":"befs","grp":"High","t":1202,"lo":0.780,"hi":0.865},{"panel":"befs","grp":"High","t":1364,"lo":0.775,"hi":0.862},{"panel":"befs","grp":"High","t":1965,"lo":0.770,"hi":0.858},{"panel":"befs","grp":"High","t":2243,"lo":0.764,"hi":0.855},{"panel":"befs","grp":"High","t":2798,"lo":0.736,"hi":0.841},{"panel":"befs","grp":"High","t":3029,"lo":0.717,"hi":0.831},{"panel":"befs","grp":"High","t":3954,"lo":0.717,"hi":0.831}
    ],
    "risk": [
      {"panel":"aos","grp":"High","t":0,"n":395},{"panel":"aos","grp":"High","t":1000,"n":338},{"panel":"aos","grp":"High","t":2000,"n":261},{"panel":"aos","grp":"High","t":3000,"n":88},{"panel":"aos","grp":"High","t":4000,"n":0},
      {"panel":"aos","grp":"Low","t":0,"n":468},{"panel":"aos","grp":"Low","t":1000,"n":425},{"panel":"aos","grp":"Low","t":2000,"n":321},{"panel":"aos","grp":"Low","t":3000,"n":120},{"panel":"aos","grp":"Low","t":4000,"n":0},
      {"panel":"aefs","grp":"High","t":0,"n":306},{"panel":"aefs","grp":"High","t":1000,"n":248},{"panel":"aefs","grp":"High","t":2000,"n":190},{"panel":"aefs","grp":"High","t":3000,"n":63},{"panel":"aefs","grp":"High","t":4000,"n":0},
      {"panel":"aefs","grp":"Low","t":0,"n":557},{"panel":"aefs","grp":"Low","t":1000,"n":480},{"panel":"aefs","grp":"Low","t":2000,"n":366},{"panel":"aefs","grp":"Low","t":3000,"n":129},{"panel":"aefs","grp":"Low","t":4000,"n":0},
      {"panel":"bos","grp":"High","t":0,"n":301},{"panel":"bos","grp":"High","t":1000,"n":260},{"panel":"bos","grp":"High","t":2000,"n":200},{"panel":"bos","grp":"High","t":3000,"n":67},{"panel":"bos","grp":"High","t":4000,"n":0},
      {"panel":"bos","grp":"Low","t":0,"n":562},{"panel":"bos","grp":"Low","t":1000,"n":503},{"panel":"bos","grp":"Low","t":2000,"n":382},{"panel":"bos","grp":"Low","t":3000,"n":141},{"panel":"bos","grp":"Low","t":4000,"n":0},
      {"panel":"befs","grp":"High","t":0,"n":301},{"panel":"befs","grp":"High","t":1000,"n":243},{"panel":"befs","grp":"High","t":2000,"n":189},{"panel":"befs","grp":"High","t":3000,"n":61},{"panel":"befs","grp":"High","t":4000,"n":0},
      {"panel":"befs","grp":"Low","t":0,"n":562},{"panel":"befs","grp":"Low","t":1000,"n":485},{"panel":"befs","grp":"Low","t":2000,"n":367},{"panel":"befs","grp":"Low","t":3000,"n":131},{"panel":"befs","grp":"Low","t":4000,"n":0}
    ]
  },
  "columns": 2,
  "align": "each",
  "bounds": "flush",
  "spacing": {"row": 0, "column": 662},
  "concat": [
    {
      "width": 1300, "height": 868,
      "data": {"values": [{}]},
      "layer": [
        {"data": {"name": "band"}, "transform": [{"filter": "datum.panel==='aos' && datum.grp==='High'"}],
         "mark": {"type": "area", "interpolate": "step-after", "color": "#FF0000", "opacity": 0.26},
         "encoding": {
           "x": {"field": "t", "type": "quantitative", "scale": {"domain": [0, 4530], "nice": false, "zero": false},
                 "axis": {"values": [0, 1000, 2000, 3000, 4000], "format": "d", "title": "Time (days)", "titleFontSize": 90, "titlePadding": 13, "labelFontSize": 88, "labelPadding": 55, "tickSize": -22}},
           "y": {"field": "lo", "type": "quantitative", "scale": {"domain": [0.8, 1.0], "nice": false, "zero": false},
                 "axis": {"values": [0.8, 0.85, 0.9, 0.95, 1.0], "format": ".2f", "title": "Survival probability", "titleFontSize": 90, "titlePadding": 145, "labelFontSize": 88, "labelPadding": 73, "tickSize": -28}},
           "y2": {"field": "hi"}}},
        {"data": {"name": "km"}, "transform": [{"filter": "datum.panel==='aos' && datum.grp==='High'"}],
         "mark": {"type": "line", "interpolate": "step-after", "color": "#FF6600", "strokeWidth": 6},
         "encoding": {"x": {"field": "t", "type": "quantitative"}, "y": {"field": "s", "type": "quantitative"}}},
        {"data": {"name": "cens"}, "transform": [{"filter": "datum.panel==='aos' && datum.grp==='High'"}],
         "mark": {"type": "tick", "color": "#FF6600"},
         "encoding": {"x": {"field": "t", "type": "quantitative"}, "y": {"field": "s", "type": "quantitative"}}},
        {"data": {"name": "band"}, "transform": [{"filter": "datum.panel==='aos' && datum.grp==='Low'"}],
         "mark": {"type": "area", "interpolate": "step-after", "color": "#0000FF", "opacity": 0.26},
         "encoding": {"x": {"field": "t", "type": "quantitative"}, "y": {"field": "lo", "type": "quantitative"}, "y2": {"field": "hi"}}},
        {"data": {"name": "km"}, "transform": [{"filter": "datum.panel==='aos' && datum.grp==='Low'"}],
         "mark": {"type": "line", "interpolate": "step-after", "color": "#0000FF", "strokeWidth": 6},
         "encoding": {"x": {"field": "t", "type": "quantitative"}, "y": {"field": "s", "type": "quantitative"}}},
        {"data": {"name": "cens"}, "transform": [{"filter": "datum.panel==='aos' && datum.grp==='Low'"}],
         "mark": {"type": "tick", "color": "#0000FF"},
         "encoding": {"x": {"field": "t", "type": "quantitative"}, "y": {"field": "s", "type": "quantitative"}}},
        {"mark": {"type": "text", "align": "right", "baseline": "middle", "fontSize": 80},
         "encoding": {"x": {"datum": 2446, "type": "quantitative"}, "y": {"datum": 0.99224, "type": "quantitative"}, "text": {"value": "Log-rank"}}},
        {"mark": {"type": "text", "align": "right", "baseline": "middle", "fontSize": 80, "fontStyle": "italic"},
         "encoding": {"x": {"datum": 2678, "type": "quantitative"}, "y": {"datum": 0.99224, "type": "quantitative"}, "text": {"value": "p"}}},
        {"mark": {"type": "text", "align": "right", "baseline": "middle", "fontSize": 80},
         "encoding": {"x": {"datum": 3694, "type": "quantitative"}, "y": {"datum": 0.99224, "type": "quantitative"}, "text": {"value": "=0.0704"}}},
        {"mark": {"type": "text", "align": "right", "baseline": "middle", "fontSize": 80},
         "encoding": {"x": {"datum": 2214, "type": "quantitative"}, "y": {"datum": 0.96842, "type": "quantitative"}, "text": {"value": "HR ("}}},
        {"mark": {"type": "text", "align": "right", "baseline": "middle", "fontSize": 80, "color": "#FF6600"},
         "encoding": {"x": {"datum": 2741, "type": "quantitative"}, "y": {"datum": 0.96842, "type": "quantitative"}, "text": {"value": "high"}}},
        {"mark": {"type": "text", "align": "right", "baseline": "middle", "fontSize": 80},
         "encoding": {"x": {"datum": 3694, "type": "quantitative"}, "y": {"datum": 0.96842, "type": "quantitative"}, "text": {"value": ")=1.474"}}},
        {"mark": {"type": "text", "align": "left", "baseline": "middle", "fontSize": 86, "fontWeight": "bold"},
         "encoding": {"x": {"datum": 317, "type": "quantitative"}, "y": {"datum": 0.8275, "type": "quantitative"}, "text": {"value": "OS"}}},
        {"mark": {"type": "text", "align": "left", "baseline": "alphabetic", "fontSize": 110, "fontWeight": "bold"},
         "encoding": {"x": {"datum": -2300, "type": "quantitative"}, "y": {"datum": 1.04248, "type": "quantitative"}, "text": {"value": "A"}}},
        {"mark": {"type": "rule", "color": "#0000FF", "strokeWidth": 6},
         "encoding": {"x": {"datum": 185, "type": "quantitative"}, "x2": {"datum": 561}, "y": {"datum": 1.02765, "type": "quantitative"}}},
        {"mark": {"type": "rule", "color": "#0000FF", "strokeWidth": 6},
         "encoding": {"x": {"datum": 373, "type": "quantitative"}, "y": {"datum": 1.02765, "type": "quantitative"}, "y2": {"datum": 1.03087}}},
        {"mark": {"type": "text", "align": "left", "baseline": "alphabetic", "fontSize": 78, "fontStyle": "italic"},
         "encoding": {"x": {"datum": 693, "type": "quantitative"}, "y": {"datum": 1.02074, "type": "quantitative"}, "text": {"value": "CD40LG"}}},
        {"mark": {"type": "text", "align": "left", "baseline": "alphabetic", "fontSize": 55},
         "encoding": {"x": {"datum": 1760, "type": "quantitative"}, "y": {"datum": 1.02511, "type": "quantitative"}, "text": {"value": "Low"}}},
        {"mark": {"type": "rule", "color": "#FF6600", "strokeWidth": 6},
         "encoding": {"x": {"datum": 2272, "type": "quantitative"}, "x2": {"datum": 2638}, "y": {"datum": 1.02765, "type": "quantitative"}}},
        {"mark": {"type": "rule", "color": "#FF6600", "strokeWidth": 6},
         "encoding": {"x": {"datum": 2450, "type": "quantitative"}, "y": {"datum": 1.02765, "type": "quantitative"}, "y2": {"datum": 1.03087}}},
        {"mark": {"type": "text", "align": "left", "baseline": "alphabetic", "fontSize": 78, "fontStyle": "italic"},
         "encoding": {"x": {"datum": 2781, "type": "quantitative"}, "y": {"datum": 1.02074, "type": "quantitative"}, "text": {"value": "CD40LG"}}},
        {"mark": {"type": "text", "align": "left", "baseline": "alphabetic", "fontSize": 55},
         "encoding": {"x": {"datum": 3847, "type": "quantitative"}, "y": {"datum": 1.02511, "type": "quantitative"}, "text": {"value": "High"}}}
      ]
    },
    {
      "width": 1300, "height": 868,
      "data": {"values": [{}]},
      "layer": [
        {"data": {"name": "band"}, "transform": [{"filter": "datum.panel==='aefs' && datum.grp==='High'"}],
         "mark": {"type": "area", "interpolate": "step-after", "color": "#FF0000", "opacity": 0.26},
         "encoding": {
           "x": {"field": "t", "type": "quantitative", "scale": {"domain": [0, 4530], "nice": false, "zero": false},
                 "axis": {"values": [0, 1000, 2000, 3000, 4000], "format": "d", "title": "Time (days)", "titleFontSize": 90, "titlePadding": 13, "labelFontSize": 88, "labelPadding": 55, "tickSize": -22}},
           "y": {"field": "lo", "type": "quantitative", "scale": {"domain": [0.7, 1.0], "nice": false, "zero": false},
                 "axis": {"values": [0.7, 0.8, 0.9, 1.0], "format": ".1f", "title": "", "labelFontSize": 88, "labelPadding": 75, "tickSize": -28}},
           "y2": {"field": "hi"}}},
        {"data": {"name": "km"}, "transform": [{"filter": "datum.panel==='aefs' && datum.grp==='High'"}],
         "mark": {"type": "line", "interpolate": "step-after", "color": "#FF6600", "strokeWidth": 6},
         "encoding": {"x": {"field": "t", "type": "quantitative"}, "y": {"field": "s", "type": "quantitative"}}},
        {"data": {"name": "cens"}, "transform": [{"filter": "datum.panel==='aefs' && datum.grp==='High'"}],
         "mark": {"type": "tick", "color": "#FF6600"},
         "encoding": {"x": {"field": "t", "type": "quantitative"}, "y": {"field": "s", "type": "quantitative"}}},
        {"data": {"name": "band"}, "transform": [{"filter": "datum.panel==='aefs' && datum.grp==='Low'"}],
         "mark": {"type": "area", "interpolate": "step-after", "color": "#0000FF", "opacity": 0.26},
         "encoding": {"x": {"field": "t", "type": "quantitative"}, "y": {"field": "lo", "type": "quantitative"}, "y2": {"field": "hi"}}},
        {"data": {"name": "km"}, "transform": [{"filter": "datum.panel==='aefs' && datum.grp==='Low'"}],
         "mark": {"type": "line", "interpolate": "step-after", "color": "#0000FF", "strokeWidth": 6},
         "encoding": {"x": {"field": "t", "type": "quantitative"}, "y": {"field": "s", "type": "quantitative"}}},
        {"data": {"name": "cens"}, "transform": [{"filter": "datum.panel==='aefs' && datum.grp==='Low'"}],
         "mark": {"type": "tick", "color": "#0000FF"},
         "encoding": {"x": {"field": "t", "type": "quantitative"}, "y": {"field": "s", "type": "quantitative"}}},
        {"mark": {"type": "text", "align": "right", "baseline": "middle", "fontSize": 80},
         "encoding": {"x": {"datum": 2348, "type": "quantitative"}, "y": {"datum": 0.98837, "type": "quantitative"}, "text": {"value": "Log-rank"}}},
        {"mark": {"type": "text", "align": "right", "baseline": "middle", "fontSize": 80, "fontStyle": "italic"},
         "encoding": {"x": {"datum": 2581, "type": "quantitative"}, "y": {"datum": 0.98837, "type": "quantitative"}, "text": {"value": "p"}}},
        {"mark": {"type": "text", "align": "right", "baseline": "middle", "fontSize": 80},
         "encoding": {"x": {"datum": 3596, "type": "quantitative"}, "y": {"datum": 0.98837, "type": "quantitative"}, "text": {"value": "=0.0492"}}},
        {"mark": {"type": "text", "align": "right", "baseline": "middle", "fontSize": 80},
         "encoding": {"x": {"datum": 2116, "type": "quantitative"}, "y": {"datum": 0.95263, "type": "quantitative"}, "text": {"value": "HR ("}}},
        {"mark": {"type": "text", "align": "right", "baseline": "middle", "fontSize": 80, "color": "#FF6600"},
         "encoding": {"x": {"datum": 2643, "type": "quantitative"}, "y": {"datum": 0.95263, "type": "quantitative"}, "text": {"value": "high"}}},
        {"mark": {"type": "text", "align": "right", "baseline": "middle", "fontSize": 80},
         "encoding": {"x": {"datum": 3596, "type": "quantitative"}, "y": {"datum": 0.95263, "type": "quantitative"}, "text": {"value": ")=1.435"}}},
        {"mark": {"type": "text", "align": "left", "baseline": "middle", "fontSize": 86, "fontWeight": "bold"},
         "encoding": {"x": {"datum": 268, "type": "quantitative"}, "y": {"datum": 0.7413, "type": "quantitative"}, "text": {"value": "EFS"}}}
      ]
    },
    {"width": 1312, "height": 377, "data": {"values": []}, "mark": "point"},
    {"width": 1312, "height": 377, "data": {"values": []}, "mark": "point"},
    {
      "width": 1312, "height": 255,
      "title": {"text": "Number at risk", "anchor": "start", "frame": "group", "fontSize": 84, "fontWeight": "normal", "baseline": "bottom", "offset": -57, "dx": 6, "color": "black"},
      "data": {"name": "risk"},
      "transform": [{"filter": "datum.panel==='aos'"}],
      "layer": [
        {"mark": {"type": "text", "fontSize": 70, "fontWeight": "bold", "baseline": "middle"},
         "encoding": {
           "x": {"field": "t", "type": "quantitative", "scale": {"domain": [-500, 4500], "nice": false, "zero": false},
                 "axis": {"values": [0, 1000, 2000, 3000, 4000], "format": "d", "title": "Time", "titleFontSize": 78, "titlePadding": 19, "labelFontSize": 59, "labelPadding": 16, "tickSize": 23}},
           "y": {"field": "grp", "type": "nominal", "sort": ["High", "Low"], "scale": {"type": "point", "padding": 0.5},
                 "axis": {"title": "Strata", "titleFontWeight": "bold", "titleFontSize": 78, "titlePadding": 257, "labelExpr": "'CD40LG'", "labelFontStyle": "italic", "labelFontSize": 68, "labelPadding": 114, "tickSize": 34}},
           "text": {"field": "n", "type": "quantitative"},
           "color": {"field": "grp", "type": "nominal", "scale": {"domain": ["Low", "High"], "range": ["#0000FF", "#FF6600"]}, "legend": null}}},
        {"transform": [{"filter": "datum.t===0"}],
         "mark": {"type": "text", "fontSize": 48, "align": "left", "baseline": "alphabetic", "dy": 6, "color": "black"},
         "encoding": {"x": {"datum": -1050, "type": "quantitative"}, "y": {"field": "grp", "type": "nominal", "sort": ["High", "Low"]}, "text": {"field": "grp"}}}
      ]
    },
    {
      "width": 1312, "height": 255,
      "title": {"text": "Number at risk", "anchor": "start", "frame": "group", "fontSize": 84, "fontWeight": "normal", "baseline": "bottom", "offset": -57, "dx": 6, "color": "black"},
      "data": {"name": "risk"},
      "transform": [{"filter": "datum.panel==='aefs'"}],
      "layer": [
        {"mark": {"type": "text", "fontSize": 70, "fontWeight": "bold", "baseline": "middle"},
         "encoding": {
           "x": {"field": "t", "type": "quantitative", "scale": {"domain": [-500, 4500], "nice": false, "zero": false},
                 "axis": {"values": [0, 1000, 2000, 3000, 4000], "format": "d", "title": "Time", "titleFontSize": 78, "titlePadding": 19, "labelFontSize": 59, "labelPadding": 16, "tickSize": 23}},
           "y": {"field": "grp", "type": "nominal", "sort": ["High", "Low"], "scale": {"type": "point", "padding": 0.5},
                 "axis": {"title": "Strata", "titleFontWeight": "bold", "titleFontSize": 78, "titlePadding": 257, "labelExpr": "'CD40LG'", "labelFontStyle": "italic", "labelFontSize": 68, "labelPadding": 114, "tickSize": 34}},
           "text": {"field": "n", "type": "quantitative"},
           "color": {"field": "grp", "type": "nominal", "scale": {"domain": ["Low", "High"], "range": ["#0000FF", "#FF6600"]}, "legend": null}}},
        {"transform": [{"filter": "datum.t===0"}],
         "mark": {"type": "text", "fontSize": 48, "align": "left", "baseline": "alphabetic", "dy": 6, "color": "black"},
         "encoding": {"x": {"datum": -1050, "type": "quantitative"}, "y": {"field": "grp", "type": "nominal", "sort": ["High", "Low"]}, "text": {"field": "grp"}}}
      ]
    },
    {"width": 1312, "height": 554, "data": {"values": []}, "mark": "point"},
    {"width": 1312, "height": 554, "data": {"values": []}, "mark": "point"},
    {
      "width": 1300, "height": 868,
      "data": {"values": [{}]},
      "layer": [
        {"data": {"name": "band"}, "transform": [{"filter": "datum.panel==='bos' && datum.grp==='High'"}],
         "mark": {"type": "area", "interpolate": "step-after", "color": "#FF0000", "opacity": 0.26},
         "encoding": {
           "x": {"field": "t", "type": "quantitative", "scale": {"domain": [0, 4530], "nice": false, "zero": false},
                 "axis": {"values": [0, 1000, 2000, 3000, 4000], "format": "d", "title": "Time (days)", "titleFontSize": 90, "titlePadding": 13, "labelFontSize": 88, "labelPadding": 55, "tickSize": -22}},
           "y": {"field": "lo", "type": "quantitative", "scale": {"domain": [0.8, 1.0], "nice": false, "zero": false},
                 "axis": {"values": [0.8, 0.85, 0.9, 0.95, 1.0], "format": ".2f", "title": "Survival probability", "titleFontSize": 90, "titlePadding": 145, "labelFontSize": 88, "labelPadding": 73, "tickSize": -28}},
           "y2": {"field": "hi"}}},
        {"data": {"name": "km"}, "transform": [{"filter": "datum.panel==='bos' && datum.grp==='High'"}],
         "mark": {"type": "line", "interpolate": "step-after", "color": "#FF6600", "strokeWidth": 6},
         "encoding": {"x": {"field": "t", "type": "quantitative"}, "y": {"field": "s", "type": "quantitative"}}},
        {"data": {"name": "cens"}, "transform": [{"filter": "datum.panel==='bos' && datum.grp==='High'"}],
         "mark": {"type": "tick", "color": "#FF6600"},
         "encoding": {"x": {"field": "t", "type": "quantitative"}, "y": {"field": "s", "type": "quantitative"}}},
        {"data": {"name": "band"}, "transform": [{"filter": "datum.panel==='bos' && datum.grp==='Low'"}],
         "mark": {"type": "area", "interpolate": "step-after", "color": "#0000FF", "opacity": 0.26},
         "encoding": {"x": {"field": "t", "type": "quantitative"}, "y": {"field": "lo", "type": "quantitative"}, "y2": {"field": "hi"}}},
        {"data": {"name": "km"}, "transform": [{"filter": "datum.panel==='bos' && datum.grp==='Low'"}],
         "mark": {"type": "line", "interpolate": "step-after", "color": "#0000FF", "strokeWidth": 6},
         "encoding": {"x": {"field": "t", "type": "quantitative"}, "y": {"field": "s", "type": "quantitative"}}},
        {"data": {"name": "cens"}, "transform": [{"filter": "datum.panel==='bos' && datum.grp==='Low'"}],
         "mark": {"type": "tick", "color": "#0000FF"},
         "encoding": {"x": {"field": "t", "type": "quantitative"}, "y": {"field": "s", "type": "quantitative"}}},
        {"mark": {"type": "text", "align": "right", "baseline": "middle", "fontSize": 80},
         "encoding": {"x": {"datum": 2601, "type": "quantitative"}, "y": {"datum": 0.99483, "type": "quantitative"}, "text": {"value": "Log-rank"}}},
        {"mark": {"type": "text", "align": "right", "baseline": "middle", "fontSize": 80, "fontStyle": "italic"},
         "encoding": {"x": {"datum": 2833, "type": "quantitative"}, "y": {"datum": 0.99483, "type": "quantitative"}, "text": {"value": "p"}}},
        {"mark": {"type": "text", "align": "right", "baseline": "middle", "fontSize": 80},
         "encoding": {"x": {"datum": 3694, "type": "quantitative"}, "y": {"datum": 0.99483, "type": "quantitative"}, "text": {"value": "=0.032"}}},
        {"mark": {"type": "text", "align": "right", "baseline": "middle", "fontSize": 80},
         "encoding": {"x": {"datum": 2214, "type": "quantitative"}, "y": {"datum": 0.97156, "type": "quantitative"}, "text": {"value": "HR ("}}},
        {"mark": {"type": "text", "align": "right", "baseline": "middle", "fontSize": 80, "color": "#FF6600"},
         "encoding": {"x": {"datum": 2741, "type": "quantitative"}, "y": {"datum": 0.97156, "type": "quantitative"}, "text": {"value": "high"}}},
        {"mark": {"type": "text", "align": "right", "baseline": "middle", "fontSize": 80},
         "encoding": {"x": {"datum": 3694, "type": "quantitative"}, "y": {"datum": 0.97156, "type": "quantitative"}, "text": {"value": ")=1.616"}}},
        {"mark": {"type": "text", "align": "left", "baseline": "middle", "fontSize": 86, "fontWeight": "bold"},
         "encoding": {"x": {"datum": 317, "type": "quantitative"}, "y": {"datum": 0.829, "type": "quantitative"}, "text": {"value": "OS"}}},
        {"mark": {"type": "text", "align": "left", "baseline": "alphabetic", "fontSize": 110, "fontWeight": "bold"},
         "encoding": {"x": {"datum": -2300, "type": "quantitative"}, "y": {"datum": 1.04433, "type": "quantitative"}, "text": {"value": "B"}}},
        {"mark": {"type": "rule", "color": "#0000FF", "strokeWidth": 6},
         "encoding": {"x": {"datum": 185, "type": "quantitative"}, "x2": {"datum": 561}, "y": {"datum": 1.02465, "type": "quantitative"}}},
        {"mark": {"type": "rule", "color": "#0000FF", "strokeWidth": 6},
         "encoding": {"x": {"datum": 373, "type": "quantitative"}, "y": {"datum": 1.02465, "type": "quantitative"}, "y2": {"datum": 1.02788}}},
        {"mark": {"type": "text", "align": "left", "baseline": "alphabetic", "fontSize": 78, "fontStyle": "italic"},
         "encoding": {"x": {"datum": 693, "type": "quantitative"}, "y": {"datum": 1.01774, "type": "quantitative"}, "text": {"value": "CD28"}}},
        {"mark": {"type": "text", "align": "left", "baseline": "alphabetic", "fontSize": 55},
         "encoding": {"x": {"datum": 1397, "type": "quantitative"}, "y": {"datum": 1.02212, "type": "quantitative"}, "text": {"value": "Low"}}},
        {"mark": {"type": "rule", "color": "#FF6600", "strokeWidth": 6},
         "encoding": {"x": {"datum": 2272, "type": "quantitative"}, "x2": {"datum": 2638}, "y": {"datum": 1.02465, "type": "quantitative"}}},
        {"mark": {"type": "rule", "color": "#FF6600", "strokeWidth": 6},
         "encoding": {"x": {"datum": 2450, "type": "quantitative"}, "y": {"datum": 1.02465, "type": "quantitative"}, "y2": {"datum": 1.02788}}},
        {"mark": {"type": "text", "align": "left", "baseline": "alphabetic", "fontSize": 78, "fontStyle": "italic"},
         "encoding": {"x": {"datum": 2781, "type": "quantitative"}, "y": {"datum": 1.01774, "type": "quantitative"}, "text": {"value": "CD28"}}},
        {"mark": {"type": "text", "align": "left", "baseline": "alphabetic", "fontSize": 55},
         "encoding": {"x": {"datum": 3485, "type": "quantitative"}, "y": {"datum": 1.02212, "type": "quantitative"}, "text": {"value": "High"}}}
      ]
    },
    {
      "width": 1300, "height": 868,
      "data": {"values": [{}]},
      "layer": [
        {"data": {"name": "band"}, "transform": [{"filter": "datum.panel==='befs' && datum.grp==='High'"}],
         "mark": {"type": "area", "interpolate": "step-after", "color": "#FF0000", "opacity": 0.26},
         "encoding": {
           "x": {"field": "t", "type": "quantitative", "scale": {"domain": [0, 4530], "nice": false, "zero": false},
                 "axis": {"values": [0, 1000, 2000, 3000, 4000], "format": "d", "title": "Time (days)", "titleFontSize": 90, "titlePadding": 13, "labelFontSize": 88, "labelPadding": 55, "tickSize": -22}},
           "y": {"field": "lo", "type": "quantitative", "scale": {"domain": [0.7, 1.0], "nice": false, "zero": false},
                 "axis": {"values": [0.7, 0.8, 0.9, 1.0], "format": ".1f", "title": "", "labelFontSize": 88, "labelPadding": 75, "tickSize": -28}},
           "y2": {"field": "hi"}}},
        {"data": {"name": "km"}, "transform": [{"filter": "datum.panel==='befs' && datum.grp==='High'"}],
         "mark": {"type": "line", "interpolate": "step-after", "color": "#FF6600", "strokeWidth": 6},
         "encoding": {"x": {"field": "t", "type": "quantitative"}, "y": {"field": "s", "type": "quantitative"}}},
        {"data": {"name": "cens"}, "transform": [{"filter": "datum.panel==='befs' && datum.grp==='High'"}],
         "mark": {"type": "tick", "color": "#FF6600"},
         "encoding": {"x": {"field": "t", "type": "quantitative"}, "y": {"field": "s", "type": "quantitative"}}},
        {"data": {"name": "band"}, "transform": [{"filter": "datum.panel==='befs' && datum.grp==='Low'"}],
         "mark": {"type": "area", "interpolate": "step-after", "color": "#0000FF", "opacity": 0.26},
         "encoding": {"x": {"field": "t", "type": "quantitative"}, "y": {"field": "lo", "type": "quantitative"}, "y2": {"field": "hi"}}},
        {"data": {"name": "km"}, "transform": [{"filter": "datum.panel==='befs' && datum.grp==='Low'"}],
         "mark": {"type": "line", "interpolate": "step-after", "color": "#0000FF", "strokeWidth": 6},
         "encoding": {"x": {"field": "t", "type": "quantitative"}, "y": {"field": "s", "type": "quantitative"}}},
        {"data": {"name": "cens"}, "transform": [{"filter": "datum.panel==='befs' && datum.grp==='Low'"}],
         "mark": {"type": "tick", "color": "#0000FF"},
         "encoding": {"x": {"field": "t", "type": "quantitative"}, "y": {"field": "s", "type": "quantitative"}}},
        {"mark": {"type": "text", "align": "right", "baseline": "middle", "fontSize": 80},
         "encoding": {"x": {"datum": 2348, "type": "quantitative"}, "y": {"datum": 0.99224, "type": "quantitative"}, "text": {"value": "Log-rank"}}},
        {"mark": {"type": "text", "align": "right", "baseline": "middle", "fontSize": 80, "fontStyle": "italic"},
         "encoding": {"x": {"datum": 2581, "type": "quantitative"}, "y": {"datum": 0.99224, "type": "quantitative"}, "text": {"value": "p"}}},
        {"mark": {"type": "text", "align": "right", "baseline": "middle", "fontSize": 80},
         "encoding": {"x": {"datum": 3596, "type": "quantitative"}, "y": {"datum": 0.99224, "type": "quantitative"}, "text": {"value": "=0.0268"}}},
        {"mark": {"type": "text", "align": "right", "baseline": "middle", "fontSize": 80},
         "encoding": {"x": {"datum": 2116, "type": "quantitative"}, "y": {"datum": 0.95734, "type": "quantitative"}, "text": {"value": "HR ("}}},
        {"mark": {"type": "text", "align": "right", "baseline": "middle", "fontSize": 80, "color": "#FF6600"},
         "encoding": {"x": {"datum": 2643, "type": "quantitative"}, "y": {"datum": 0.95734, "type": "quantitative"}, "text": {"value": "high"}}},
        {"mark": {"type": "text", "align": "right", "baseline": "middle", "fontSize": 80},
         "encoding": {"x": {"datum": 3596, "type": "quantitative"}, "y": {"datum": 0.95734, "type": "quantitative"}, "text": {"value": ")=1.503"}}},
        {"mark": {"type": "text", "align": "left", "baseline": "middle", "fontSize": 86, "fontWeight": "bold"},
         "encoding": {"x": {"datum": 268, "type": "quantitative"}, "y": {"datum": 0.7435, "type": "quantitative"}, "text": {"value": "EFS"}}}
      ]
    },
    {"width": 1312, "height": 377, "data": {"values": []}, "mark": "point"},
    {"width": 1312, "height": 377, "data": {"values": []}, "mark": "point"},
    {
      "width": 1312, "height": 255,
      "title": {"text": "Number at risk", "anchor": "start", "frame": "group", "fontSize": 84, "fontWeight": "normal", "baseline": "bottom", "offset": -57, "dx": 6, "color": "black"},
      "data": {"name": "risk"},
      "transform": [{"filter": "datum.panel==='bos'"}],
      "layer": [
        {"mark": {"type": "text", "fontSize": 70, "fontWeight": "bold", "baseline": "middle"},
         "encoding": {
           "x": {"field": "t", "type": "quantitative", "scale": {"domain": [-500, 4500], "nice": false, "zero": false},
                 "axis": {"values": [0, 1000, 2000, 3000, 4000], "format": "d", "title": "Time", "titleFontSize": 78, "titlePadding": 19, "labelFontSize": 59, "labelPadding": 16, "tickSize": 23}},
           "y": {"field": "grp", "type": "nominal", "sort": ["High", "Low"], "scale": {"type": "point", "padding": 0.5},
                 "axis": {"title": "Strata", "titleFontWeight": "bold", "titleFontSize": 78, "titlePadding": 257, "labelExpr": "'CD28'", "labelFontStyle": "italic", "labelFontSize": 68, "labelPadding": 114, "tickSize": 34}},
           "text": {"field": "n", "type": "quantitative"},
           "color": {"field": "grp", "type": "nominal", "scale": {"domain": ["Low", "High"], "range": ["#0000FF", "#FF6600"]}, "legend": null}}},
        {"transform": [{"filter": "datum.t===0"}],
         "mark": {"type": "text", "fontSize": 48, "align": "left", "baseline": "alphabetic", "dy": 6, "color": "black"},
         "encoding": {"x": {"datum": -1050, "type": "quantitative"}, "y": {"field": "grp", "type": "nominal", "sort": ["High", "Low"]}, "text": {"field": "grp"}}}
      ]
    },
    {
      "width": 1312, "height": 255,
      "title": {"text": "Number at risk", "anchor": "start", "frame": "group", "fontSize": 84, "fontWeight": "normal", "baseline": "bottom", "offset": -57, "dx": 6, "color": "black"},
      "data": {"name": "risk"},
      "transform": [{"filter": "datum.panel==='befs'"}],
      "layer": [
        {"mark": {"type": "text", "fontSize": 70, "fontWeight": "bold", "baseline": "middle"},
         "encoding": {
           "x": {"field": "t", "type": "quantitative", "scale": {"domain": [-500, 4500], "nice": false, "zero": false},
                 "axis": {"values": [0, 1000, 2000, 3000, 4000], "format": "d", "title": "Time", "titleFontSize": 78, "titlePadding": 19, "labelFontSize": 59, "labelPadding": 16, "tickSize": 23}},
           "y": {"field": "grp", "type": "nominal", "sort": ["High", "Low"], "scale": {"type": "point", "padding": 0.5},
                 "axis": {"title": "Strata", "titleFontWeight": "bold", "titleFontSize": 78, "titlePadding": 257, "labelExpr": "'CD28'", "labelFontStyle": "italic", "labelFontSize": 68, "labelPadding": 114, "tickSize": 34}},
           "text": {"field": "n", "type": "quantitative"},
           "color": {"field": "grp", "type": "nominal", "scale": {"domain": ["Low", "High"], "range": ["#0000FF", "#FF6600"]}, "legend": null}}},
        {"transform": [{"filter": "datum.t===0"}],
         "mark": {"type": "text", "fontSize": 48, "align": "left", "baseline": "alphabetic", "dy": 6, "color": "black"},
         "encoding": {"x": {"datum": -1050, "type": "quantitative"}, "y": {"field": "grp", "type": "nominal", "sort": ["High", "Low"]}, "text": {"field": "grp"}}}
      ]
    }
  ]
}
